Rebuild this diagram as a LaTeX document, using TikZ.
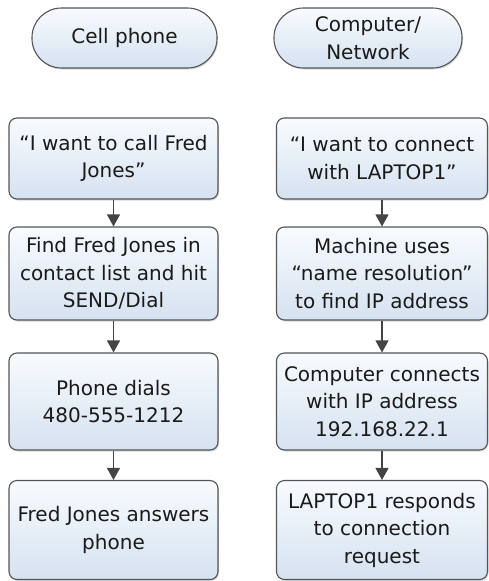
\documentclass[tikz,border=0pt]{standalone}
\usepackage{fontspec}
\setmainfont{DejaVu Sans}
\usetikzlibrary{arrows.meta,shadows}
\definecolor{edgec}{HTML}{555555}
\definecolor{arrc}{HTML}{444444}
\definecolor{topc}{HTML}{F8FBFE}
\definecolor{botc}{HTML}{D5E2F0}
\definecolor{txtc}{HTML}{1A1A1A}
\tikzset{
  box/.style={draw=edgec, line width=1.1pt, rounded corners=8pt,
    top color=topc, bottom color=botc, align=center, text=txtc,
    font=\fontsize{20}{27.5}\selectfont, inner sep=0pt,
    drop shadow={shadow xshift=1pt, shadow yshift=-1.5pt, opacity=0.3}},
  term/.style={box, rounded corners=29.5pt},
  arr/.style={draw=arrc, line width=1.2pt, -{Triangle[length=12pt,width=13pt]}}
}
\begin{document}
\begin{tikzpicture}[x=1pt,y=-1pt]
\useasboundingbox (0,0) rectangle (489,581);
% left column
\node[term, minimum width=185pt, minimum height=60pt] (l0) at (124.5,38) {Cell phone};
\node[box, minimum width=209pt, minimum height=81pt] (l1) at (113.5,158.5) {“I want to call Fred\\Jones”};
\node[box, minimum width=209pt, minimum height=93pt] (l2) at (113.5,273.5) {Find Fred Jones in\\contact list and hit\\SEND/Dial};
\node[box, minimum width=209pt, minimum height=97pt] (l3) at (113.5,401.5) {Phone dials\\480-555-1212};
\node[box, minimum width=209pt, minimum height=99pt] (l4) at (113.5,530) {Fred Jones answers\\phone};
% right column
\node[term, minimum width=188pt, minimum height=60pt] (r0) at (368,38) {Computer/\\Network};
\node[box, minimum width=211pt, minimum height=81pt] (r1) at (382,158.5) {“I want to connect\\with LAPTOP1”};
\node[box, minimum width=211pt, minimum height=93pt] (r2) at (382,273.5) {Machine uses\\“name resolution”\\to find IP address};
\node[box, minimum width=211pt, minimum height=97pt] (r3) at (382,401.5) {Computer connects\\with IP address\\192.168.22.1};
\node[box, minimum width=211pt, minimum height=99pt] (r4) at (382,530) {LAPTOP1 responds\\to connection\\request};
% arrows
\draw[arr] (l1) -- (l2);
\draw[arr] (l2) -- (l3);
\draw[arr] (l3) -- (l4);
\draw[arr] (r1) -- (r2);
\draw[arr] (r2) -- (r3);
\draw[arr] (r3) -- (r4);
\end{tikzpicture}
\end{document}
